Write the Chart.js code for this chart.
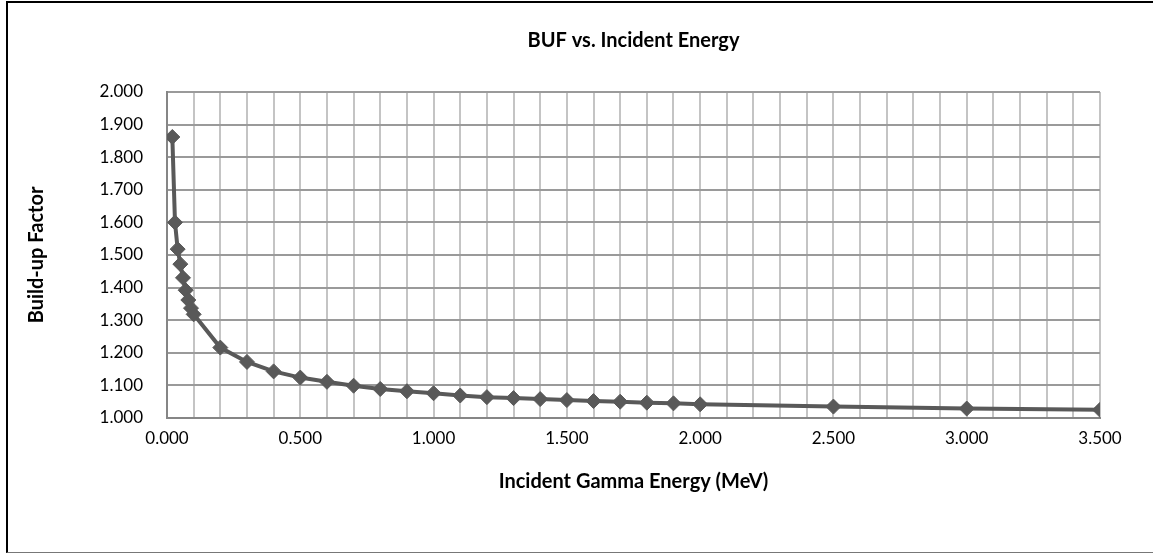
<!DOCTYPE html>
<html>
<head>
<meta charset="utf-8">
<script src="https://cdn.jsdelivr.net/npm/chart.js@4"></script>
<style>
    html, body { margin: 0; padding: 0; background: #fff; }
    #frame {
        position: absolute; left: 6px; top: 1px; width: 1160px; height: 549px;
        border-left: 2px solid #000; border-top: 2px solid #000; border-bottom: 1px solid #777;
    }
    #wrap { position: absolute; left: 0; top: 0; width: 1153px; height: 554px; }
</style>
</head>
<body>
<div id="frame"></div>
<div id="wrap"><canvas id="bufChart" width="1153" height="554"></canvas></div>
<script>
// incident gamma energy (MeV) and build-up factor
const energies = [0.02, 0.03, 0.04, 0.05, 0.06, 0.07, 0.08, 0.09, 0.1,
    0.2, 0.3, 0.4, 0.5, 0.6, 0.7, 0.8, 0.9, 1.0,
    1.1, 1.2, 1.3, 1.4, 1.5, 1.6, 1.7, 1.8, 1.9, 2.0,
    2.5, 3.0, 3.5];
const buf = [1.862, 1.600, 1.518, 1.472, 1.430, 1.392, 1.362, 1.337, 1.318,
    1.216, 1.172, 1.143, 1.124, 1.111, 1.099, 1.089, 1.082, 1.076,
    1.069, 1.064, 1.061, 1.058, 1.055, 1.052, 1.050, 1.047, 1.045, 1.042,
    1.035, 1.029, 1.025];

const xMin = 0, xMax = 3.5, xStep = 0.1, xLabelEvery = 0.5;
const yMin = 1, yMax = 2, yStep = 0.1;

const chartTitle = 'BUF vs. Incident Energy';
const xTitle = 'Incident Gamma Energy (MeV)';
const yTitle = 'Build-up Factor';

const FONT = "Lato, 'Open Sans', sans-serif";
const lineGrey = '#595959';

const points = energies.map((e, i) => ({ x: e, y: buf[i] }));

new Chart(document.getElementById('bufChart'), {
    type: 'scatter',
    data: {
        datasets: [{
            data: points,
            showLine: true,
            borderColor: lineGrey,
            borderWidth: 4,
            pointStyle: 'rectRot',
            pointRadius: 7.5,
            pointBackgroundColor: lineGrey,
            pointBorderColor: lineGrey,
            pointBorderWidth: 1,
            tension: 0
        }]
    },
    options: {
        responsive: false,
        animation: false,
        events: [],
        layout: { padding: { left: 0, right: 53, top: 0, bottom: 0 } },
        plugins: {
            legend: { display: false },
            tooltip: { enabled: false },
            title: {
                display: true,
                fullSize: false,
                text: chartTitle,
                color: '#000',
                font: { family: FONT, size: 20, weight: 'bold' },
                padding: { top: 29, bottom: 39 }
            }
        },
        scales: {
            x: {
                type: 'linear',
                min: xMin,
                max: xMax,
                afterFit: (scale) => { scale.height = 136; },
                border: { color: '#868686', width: 2 },
                grid: { color: '#c4c4c4', lineWidth: 2, drawTicks: false },
                ticks: {
                    stepSize: xStep,
                    autoSkip: false,
                    maxRotation: 0,
                    padding: 10,
                    color: '#000',
                    font: { family: FONT, size: 17 },
                    callback: (v) => {
                        const r = v / xLabelEvery;
                        return Math.abs(r - Math.round(r)) < 1e-6 ? v.toFixed(3) : '';
                    }
                },
                title: {
                    display: true,
                    text: xTitle,
                    color: '#000',
                    font: { family: FONT, size: 20, weight: 'bold' },
                    padding: { top: 0, bottom: 60 }
                }
            },
            y: {
                min: yMin,
                max: yMax,
                afterFit: (scale) => { scale.width = 167; },
                border: { color: '#868686', width: 2 },
                grid: { color: '#9a9a9a', lineWidth: 2, drawTicks: false },
                ticks: {
                    stepSize: yStep,
                    padding: 24,
                    color: '#000',
                    font: { family: FONT, size: 17 },
                    callback: (v) => v.toFixed(3)
                },
                title: {
                    display: true,
                    text: yTitle,
                    color: '#000',
                    font: { family: FONT, size: 20, weight: 'bold' },
                    padding: { top: 25, bottom: 0 }
                }
            }
        }
    }
});
</script>
</body>
</html>
